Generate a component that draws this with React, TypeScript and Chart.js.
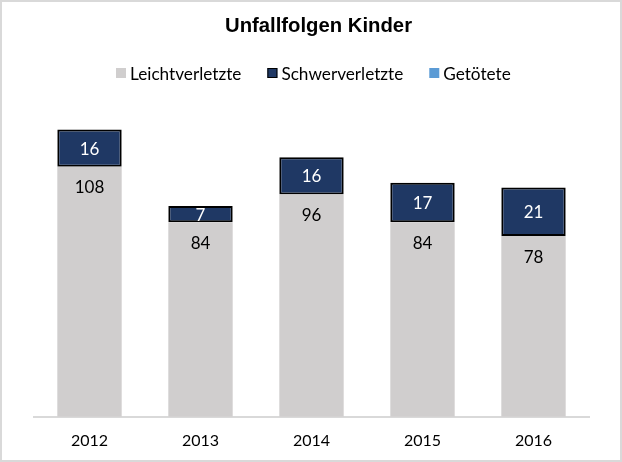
import React, { useEffect, useRef } from "react";
import { Chart, registerables } from "chart.js";

Chart.register(...registerables);

const years = ["2012", "2013", "2014", "2015", "2016"];
const leicht = [108, 84, 96, 84, 78];
const schwer = [16, 7, 16, 17, 21];
const getoetet = [0, 0, 0, 0, 0];
const chartTitle = "Unfallfolgen Kinder";

const labelFont = "Lato, 'Open Sans', sans-serif";

const valueLabels = {
  id: "valueLabels",
  afterDatasetsDraw(chart: any) {
    const ctx = chart.ctx;
    chart.data.datasets.forEach((ds: any, di: number) => {
      const meta = chart.getDatasetMeta(di);
      if (meta.hidden) return;
      meta.data.forEach((el: any, i: number) => {
        const v = ds.data[i];
        if (!v) return;
        const { x, y, base } = el.getProps(["x", "y", "base"], true);
        const cy = ds.labelPos === "insideEnd" ? y + 21 : (y + base) / 2 + 1;
        ctx.save();
        ctx.font = "17px " + labelFont;
        ctx.fillStyle = ds.labelColor;
        ctx.textAlign = "center";
        ctx.textBaseline = "middle";
        ctx.fillText(String(v), x, cy);
        ctx.restore();
      });
    });
  },
};

const titleAndLegend = {
  id: "titleAndLegend",
  afterDraw(chart: any) {
    const ctx = chart.ctx;
    ctx.save();
    // title
    ctx.font = "bold 20.3px 'Liberation Sans', Arial, sans-serif";
    ctx.fillStyle = "#000000";
    ctx.textAlign = "center";
    ctx.textBaseline = "middle";
    ctx.fillText(chartTitle, chart.width / 2 + 7.5, 24);
    // legend
    ctx.font = "17.2px " + labelFont;
    ctx.textAlign = "left";
    const box = 10;
    const gap = 4;
    const itemGap = 26;
    const cy = 71;
    let x = 114;
    chart.data.datasets.forEach((ds: any) => {
      ctx.fillStyle = ds.backgroundColor;
      ctx.fillRect(x, cy - box / 2, box, box);
      if (ds.borderWidth) {
        ctx.strokeStyle = "#000000";
        ctx.lineWidth = 1;
        ctx.strokeRect(x + 0.5, cy - box / 2 + 0.5, box - 1, box - 1);
      }
      x += box + gap;
      ctx.fillStyle = "#000000";
      ctx.fillText(ds.label, x, cy + 1);
      x += ctx.measureText(ds.label).width + itemGap;
    });
    ctx.restore();
  },
};

export default function App() {
  const ref = useRef<HTMLCanvasElement>(null);
  useEffect(() => {
    const chart = new Chart(ref.current!, {
      type: "bar",
      data: {
        labels: years,
        datasets: [
          {
            label: "Leichtverletzte",
            data: leicht,
            backgroundColor: "#d0cece",
            borderWidth: 0,
            labelColor: "#000000",
            labelPos: "insideEnd",
          } as any,
          {
            label: "Schwerverletzte",
            data: schwer,
            backgroundColor: "#1f3864",
            borderColor: "#000000",
            borderWidth: 2,
            borderSkipped: false,
            labelColor: "#ffffff",
            labelPos: "center",
          } as any,
          {
            label: "Getötete",
            data: getoetet,
            backgroundColor: "#5b9bd5",
            borderWidth: 0,
            labelColor: "#ffffff",
            labelPos: "center",
          } as any,
        ],
      },
      options: {
        animation: false,
        responsive: false,
        maintainAspectRatio: false,
        layout: { padding: { left: 32, right: 31, top: 90.5, bottom: -4 } },
        datasets: { bar: { categoryPercentage: 1, barPercentage: 0.58 } },
        scales: {
          x: {
            stacked: true,
            grid: { display: false, drawTicks: false },
            border: { display: true, color: "#d9d9d9", width: 2 },
            ticks: {
              color: "#000000",
              font: { family: labelFont, size: 16 },
              padding: 14,
            },
          },
          y: {
            stacked: true,
            display: false,
            min: 0,
            max: 140,
          },
        },
        plugins: {
          title: { display: false },
          legend: { display: false },
          tooltip: { enabled: false },
        },
      },
      plugins: [valueLabels, titleAndLegend],
    });
    return () => chart.destroy();
  }, []);
  return (
    <div
      style={{
        position: "fixed",
        left: 0,
        top: 0,
        width: 618,
        height: 458,
        border: "2px solid #d9d9d9",
        background: "#ffffff",
      }}
    >
      <canvas ref={ref} width={618} height={458} style={{ display: "block" }} />
    </div>
  );
}
